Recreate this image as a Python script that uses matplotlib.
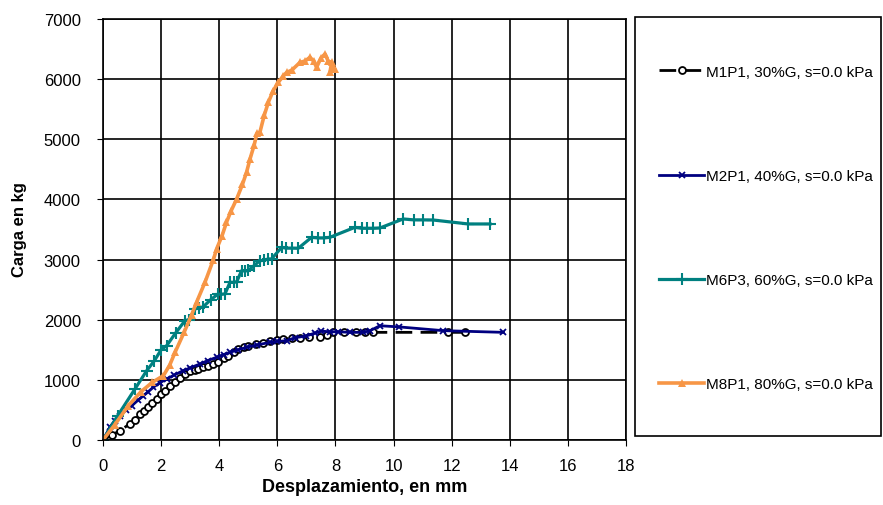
import matplotlib
matplotlib.use("Agg")
import matplotlib.pyplot as plt
from matplotlib.patches import Rectangle

plt.rcParams["font.family"] = ["Liberation Sans", "DejaVu Sans"]

# ── Data ───────────────────────────────────────────────────────────────────────
m1_x = [0, 0.3, 0.58, 0.93, 1.1, 1.27, 1.4, 1.56, 1.7, 1.85, 2.0, 2.13, 2.3, 2.48,
        2.65, 2.82, 3.0, 3.15, 3.28, 3.45, 3.62, 3.8, 3.97, 4.15, 4.3, 4.5, 4.66,
        4.85, 5.0, 5.28, 5.5, 5.75, 6.0, 6.2, 6.5, 6.78, 7.1, 7.47, 7.7, 7.92, 8.3,
        8.7, 9.0, 9.3, 11.88, 12.46]
m1_y = [0, 80, 155, 270, 340, 440, 490, 545, 620, 680, 760, 820, 890, 960,
        1030, 1097, 1140, 1170, 1181, 1210, 1236, 1270, 1292, 1360, 1400, 1470, 1520,
        1540, 1560, 1600, 1620, 1640, 1660, 1680, 1690, 1700, 1710, 1708, 1750, 1790, 1790,
        1800, 1790, 1790, 1790, 1790]

m2_x = [0, 0.24, 0.4, 0.58, 0.8, 0.99, 1.2, 1.39, 1.55, 1.73, 1.95, 2.19, 2.45, 2.76,
        3.0, 3.34, 3.6, 3.91, 4.15, 4.37, 4.65, 4.94, 5.3, 5.75, 6.0, 6.32, 6.6, 7.0,
        7.3, 7.52, 7.8, 8.1, 8.5, 8.96, 9.2, 9.53, 10.2, 11.71, 13.78]
m2_y = [0, 216, 320, 404, 500, 570, 660, 737, 800, 876, 950, 1014, 1080, 1153,
        1200, 1264, 1320, 1375, 1420, 1458, 1500, 1541, 1580, 1624, 1640, 1650, 1700, 1730,
        1780, 1810, 1800, 1800, 1790, 1790, 1820, 1900, 1880, 1818, 1790]

m6_x = [0, 0.5, 1.1, 1.5, 1.77, 2.0, 2.19, 2.5, 2.82, 2.95, 3.17, 3.3, 3.44, 3.7, 3.96,
        4.05, 4.2, 4.37, 4.5, 4.6, 4.77, 4.9, 5.0, 5.2, 5.4, 5.55, 5.69, 5.8, 6.15, 6.3,
        6.5, 6.72, 7.18, 7.4, 7.6, 7.81, 8.67, 8.9, 9.1, 9.3, 9.53, 10.33, 10.7, 11.0,
        11.36, 12.57, 13.32]
m6_y = [0, 400, 848, 1150, 1319, 1500, 1568, 1780, 1984, 2000, 2178, 2200, 2211, 2330, 2428,
        2420, 2430, 2622, 2620, 2630, 2815, 2810, 2820, 2900, 2981, 2990, 3010, 3010, 3204, 3190,
        3190, 3188, 3370, 3360, 3360, 3370, 3536, 3520, 3520, 3520, 3525, 3675, 3660, 3660,
        3658, 3592, 3592]

m8_x = [0, 0.4, 0.87, 1.3, 1.7, 2.08, 2.3, 2.48, 2.8, 3.05, 3.22, 3.51, 3.8, 3.91, 4.1,
        4.25, 4.4, 4.6, 4.8, 4.94, 5.06, 5.2, 5.3, 5.4, 5.55, 5.69, 5.85, 6.03, 6.2, 6.32,
        6.5, 6.78, 6.95, 7.12, 7.25, 7.35, 7.5, 7.64, 7.75, 7.87, 7.81, 7.98, 7.9]
m8_y = [0, 250, 570, 800, 960, 1070, 1250, 1458, 1800, 2080, 2290, 2622, 3000, 3176, 3400,
        3619, 3800, 4007, 4250, 4451, 4672, 4900, 5100, 5116, 5400, 5614, 5800, 5946, 6050, 6112,
        6150, 6279, 6300, 6362, 6300, 6196, 6350, 6418, 6300, 6279, 6112, 6168, 6200]

labels = ["M1P1, 30%G, s=0.0 kPa", "M2P1, 40%G, s=0.0 kPa",
          "M6P3, 60%G, s=0.0 kPa", "M8P1, 80%G, s=0.0 kPa"]

x_ticks = list(range(0, 19, 2))
y_ticks = list(range(0, 7001, 1000))

# ── Figure ─────────────────────────────────────────────────────────────────────
fig = plt.figure(figsize=(8.83, 5.06), dpi=100)
ax = fig.add_axes([103 / 883, 1 - 441 / 506, 523 / 883, 421 / 506])

lw = 2.0
h1, = ax.plot(m1_x, m1_y, color="black", lw=lw, ls=(0, (6, 3)), marker="o",
              ms=5, mfc="white", mec="black", mew=1.3, label=labels[0])
h2, = ax.plot(m2_x, m2_y, color="#000080", lw=lw, marker="x",
              ms=5, mew=1.3, label=labels[1])
h3, = ax.plot(m6_x, m6_y, color="#008080", lw=lw + 0.3, marker="+",
              ms=8, mew=1.5, label=labels[2])
h4, = ax.plot(m8_x, m8_y, color="#F79646", lw=lw + 0.6, marker="^",
              ms=5.5, mew=0, label=labels[3])

ax.set_xlim(0, 18)
ax.set_ylim(0, 7000)
ax.set_xticks(x_ticks)
ax.set_yticks(y_ticks)
ax.grid(True, color="black", lw=1.2)
ax.set_axisbelow(True)
for s in ax.spines.values():
    s.set_color("black")
    s.set_linewidth(1.2)
ax.tick_params(axis="both", labelsize=12, length=4, direction="out")
ax.tick_params(axis="x", pad=9)
ax.tick_params(axis="y", pad=12)

fig.text(0.5 * (103 + 626) / 883, 1 - 488 / 506, "Desplazamiento, en mm",
         ha="center", va="center", fontsize=13, fontweight="bold")
fig.text(20 / 883, 1 - 230 / 506, "Carga en kg", rotation=90,
         ha="center", va="center", fontsize=12, fontweight="bold")

# ── Legend box ─────────────────────────────────────────────────────────────────
fig.patches.append(Rectangle((635 / 883, 1 - 437 / 506), 246 / 883, 419 / 506,
                             transform=fig.transFigure, fill=False,
                             edgecolor="black", lw=1.2))
fig.legend(handles=[h1, h2, h3, h4], loc="center left",
           bbox_to_anchor=(651 / 883, 1 - 229 / 506), frameon=False,
           fontsize=11, handlelength=3.0, handletextpad=0.1,
           labelspacing=5.9, borderpad=0, numpoints=1)

fig.savefig("out.png", dpi=100)
